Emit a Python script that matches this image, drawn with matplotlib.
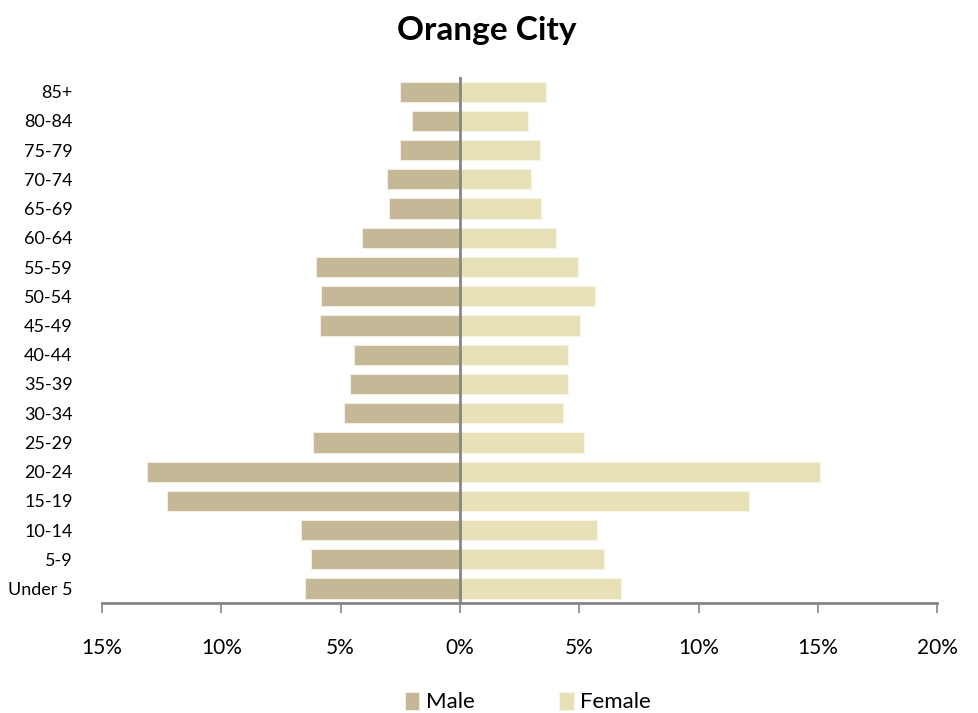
import matplotlib
matplotlib.use("Agg")
import matplotlib.pyplot as plt
import numpy as np

plt.rcParams['font.family'] = ['Lato', 'DejaVu Sans']

# age groups, bottom to top
ages = ["Under 5", "5-9", "10-14", "15-19", "20-24", "25-29", "30-34", "35-39",
        "40-44", "45-49", "50-54", "55-59", "60-64", "65-69", "70-74", "75-79",
        "80-84", "85+"]
male = [6.48, 6.23, 6.65, 12.26, 13.10, 6.17, 4.85, 4.61,
        4.43, 5.87, 5.81, 6.05, 4.12, 2.97, 3.05, 2.50, 2.01, 2.50]
female = [6.77, 6.05, 5.74, 12.12, 15.08, 5.21, 4.30, 4.54,
          4.54, 5.03, 5.68, 4.97, 4.01, 3.39, 2.97, 3.34, 2.85, 3.59]
xticks = [-15, -10, -5, 0, 5, 10, 15, 20]

male_col = "#C4B896"
female_col = "#E8E1B7"
grey = "#868686"

fig = plt.figure(figsize=(9.79, 7.13), dpi=100)
ax = fig.add_axes([0.1042, 0.154, 0.853, 0.738])

y = np.arange(len(ages))
ax.barh(y, [-v for v in male], height=0.69, color=male_col,
        edgecolor="#F2EEE2", linewidth=0.8, label="Male", zorder=2)
ax.barh(y, female, height=0.69, color=female_col,
        edgecolor="#F7F4E6", linewidth=0.8, label="Female", zorder=2)

ax.axvline(0, color=grey, linewidth=2, zorder=3)

ax.set_xlim(-15, 20)
ax.set_ylim(-0.5, 17.5)
ax.set_xticks(xticks)
ax.set_xticklabels([f"{abs(t)}%" for t in xticks])
ax.set_yticks(y)
ax.set_yticklabels(ages)

for s in ["top", "right", "left"]:
    ax.spines[s].set_visible(False)
ax.spines["bottom"].set_color(grey)
ax.spines["bottom"].set_linewidth(2)
ax.tick_params(axis="x", direction="out", length=7, width=1.2, color=grey,
               pad=18, labelsize=15)
ax.tick_params(axis="y", length=0, pad=21, labelsize=13)

fig.suptitle("Orange City", x=0.497, y=0.978, fontsize=24, fontweight="bold")

ax.legend(loc="upper center", bbox_to_anchor=(0.51, -0.13), ncol=2, frameon=False,
          fontsize=16, handlelength=0.65, handleheight=0.9, handletextpad=0.3,
          columnspacing=3.8)

fig.savefig("out.png", dpi=100)
